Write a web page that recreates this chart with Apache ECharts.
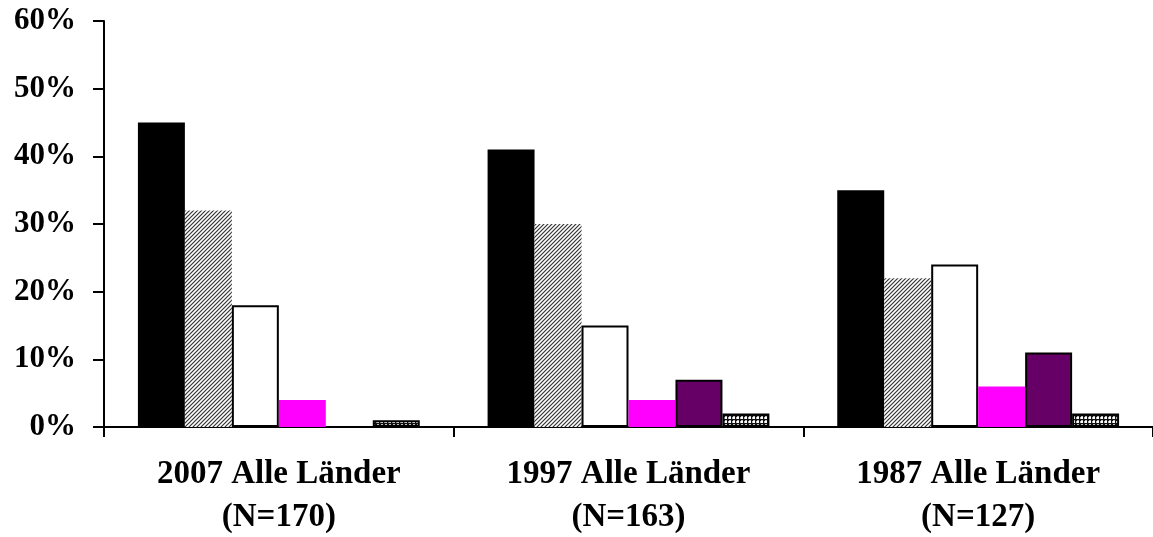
<!DOCTYPE html>
<html>
<head>
<meta charset="utf-8">
<script src="https://cdn.jsdelivr.net/npm/echarts@6/dist/echarts.min.js"></script>
<style>
  html, body { margin: 0; padding: 0; background: #fff; }
  #chart { width: 1153px; height: 537px; }
</style>
</head>
<body>
<div id="chart"></div>
<script>
const categories = ['2007 Alle Länder\n(N=170)', '1997 Alle Länder\n(N=163)', '1987 Alle Länder\n(N=127)']
const s1 = [45, 41, 35]
const s2 = [32, 30, 22]
const s3 = [18, 15, 24]
const s4 = [4, 4, 6]
const s5 = [0, 7, 11]
const s6 = [1, 2, 2]

// diagonal hatch tile
function hatch() {
  const c = document.createElement('canvas')
  c.width = 4
  c.height = 4
  const ctx = c.getContext('2d')
  ctx.fillStyle = '#fff'
  ctx.fillRect(0, 0, 4, 4)
  ctx.strokeStyle = '#333'
  ctx.lineWidth = 1.2
  ctx.beginPath()
  ctx.moveTo(-1, 5); ctx.lineTo(5, -1)
  ctx.moveTo(-1, 1); ctx.lineTo(1, -1)
  ctx.moveTo(3, 5); ctx.lineTo(5, 3)
  ctx.stroke()
  return c
}

// small cross-hatch tile
function cross() {
  const c = document.createElement('canvas')
  c.width = 4
  c.height = 4
  const ctx = c.getContext('2d')
  ctx.fillStyle = '#111'
  ctx.fillRect(0, 0, 4, 4)
  ctx.fillStyle = '#fff'
  ctx.fillRect(1, 1, 2, 2)
  ctx.fillStyle = '#bbb'
  ctx.fillRect(1, 0, 2, 1)
  ctx.fillRect(0, 1, 1, 2)
  return c
}

const chart = echarts.init(document.getElementById('chart'))
const font = { fontFamily: 'Liberation Serif', fontWeight: 'bold', color: '#000' }

function bar(name, data, color, border) {
  return {
    name: name,
    type: 'bar',
    data: data,
    barGap: '0%',
    barCategoryGap: '19.4%',
    itemStyle: {
      color: color,
      borderColor: '#000',
      borderWidth: border ? 2 : 0
    }
  }
}

chart.setOption({
  animation: false,
  grid: { left: 104, right: 0, top: 21, bottom: 110, outerBoundsMode: 'none' },
  xAxis: {
    type: 'category',
    data: categories,
    axisLine: { lineStyle: { color: '#000', width: 2 } },
    axisTick: { show: true, length: 10, lineStyle: { color: '#000', width: 2 } },
    axisLabel: Object.assign({ margin: 26, lineHeight: 43, fontSize: 33, interval: 0 }, font)
  },
  yAxis: {
    type: 'value',
    min: 0,
    max: 60,
    interval: 10,
    axisLine: { show: true, lineStyle: { color: '#000', width: 2 } },
    axisTick: { show: true, length: 11, lineStyle: { color: '#000', width: 2 } },
    splitLine: { show: false },
    axisLabel: Object.assign({ margin: 28, fontSize: 31, formatter: '{value}%' }, font)
  },
  series: [
    bar('s1', s1, '#000', false),
    bar('s2', s2, { image: hatch(), repeat: 'repeat' }, false),
    bar('s3', s3, '#fff', true),
    bar('s4', s4, '#ff00ff', false),
    bar('s5', s5, '#660066', true),
    bar('s6', s6, { image: cross(), repeat: 'repeat' }, true)
  ]
})
</script>
</body>
</html>
